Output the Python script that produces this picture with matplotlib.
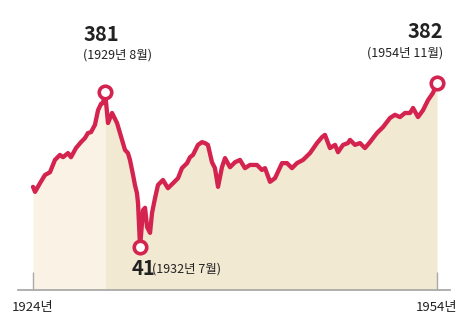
import numpy as np
import matplotlib
matplotlib.use('Agg')
import matplotlib.pyplot as plt

plt.rcParams['font.family'] = ['Noto Sans CJK KR', 'DejaVu Sans']

# 다우지수 (1924 ~ 1954), 그림에서 읽은 값
years = [1924.00, 1924.15, 1924.52, 1924.89, 1925.26, 1925.63, 1926.00, 1926.23,
         1926.60, 1926.82, 1927.19, 1927.56, 1927.86, 1928.08, 1928.31, 1928.60,
         1928.83, 1929.05, 1929.20, 1929.35, 1929.57, 1929.87, 1930.24, 1930.61,
         1930.83, 1931.05, 1931.20, 1931.43, 1931.57, 1931.72, 1931.80, 1931.95,
         1932.17, 1932.32, 1932.47, 1932.69, 1932.84, 1933.06, 1933.28, 1933.65,
         1934.02, 1934.40, 1934.77, 1935.06, 1935.44, 1935.66, 1935.88, 1936.25,
         1936.55, 1936.77, 1936.99, 1937.29, 1937.51, 1937.74, 1938.03, 1938.26,
         1938.63, 1939.00, 1939.37, 1939.74, 1940.11, 1940.63, 1941.00, 1941.23,
         1941.60, 1941.97, 1942.49, 1942.86, 1943.23, 1943.60, 1944.05, 1944.57,
         1945.09, 1945.46, 1945.68, 1946.05, 1946.43, 1946.65, 1947.02, 1947.39,
         1947.54, 1947.91, 1948.28, 1948.65, 1949.02, 1949.54, 1949.99, 1950.51,
         1950.88, 1951.25, 1951.62, 1952.00, 1952.22, 1952.59, 1952.96, 1953.33,
         1953.70, 1954.00]
dow = [173, 162, 181, 199, 205, 232, 243, 238,
       247, 238, 258, 271, 280, 291, 293, 309,
       341, 355, 357, 381, 313, 335, 313, 276,
       254, 247, 232, 199, 177, 159, 137, 41,
       122, 127, 85, 72, 116, 148, 177, 188,
       170, 181, 192, 214, 225, 238, 243, 265,
       271, 269, 265, 227, 214, 173, 216, 236,
       216, 227, 232, 214, 221, 221, 210, 214,
       184, 192, 225, 225, 214, 225, 232, 247,
       269, 282, 287, 258, 265, 249, 265, 269,
       276, 265, 269, 258, 271, 291, 304, 324,
       331, 326, 335, 335, 346, 326, 341, 363,
       379, 401]

tick_years = [1924, 1954]
tick_labels = ['1924년', '1954년']

peak_txt, peak_date = '381', '(1929년 8월)'
low_txt, low_date = '41', '(1932년 7월)'
last_txt, last_date = '382', '(1954년 11월)'

red = '#d3234e'
floor = -53.3

x = np.array(years)
y = np.array(dow)
peak_i = int(np.argmax(np.where(x < 1930, y, 0)))
low_i = int(np.argmin(y))
last_i = len(y) - 1

fig = plt.figure(figsize=(4.69, 3.27), dpi=100)
ax = fig.add_axes([18 / 469, 37 / 327, 432 / 469, 290 / 327])
ax.set_xlim(1922.886, 1954.965)
ax.set_ylim(floor, 582.8)

# 배경 면 (대공황 이전 / 이후)
ax.fill_between(x[:peak_i + 1], y[:peak_i + 1], floor, color='#faf3e5', lw=0)
ax.fill_between(x[peak_i:], y[peak_i:], floor, color='#f2e9d2', lw=0)

ax.plot(x, y, color=red, lw=3.1, solid_joinstyle='round', solid_capstyle='round', zorder=3)
for i in (peak_i, low_i, last_i):
    ax.plot(x[i], y[i], 'o', ms=9, mfc='white', mec=red, mew=2.6, zorder=4)

def note(i, big, small, off_big, off_small, ha):
    ax.annotate(big, (x[i], y[i]), xytext=off_big, textcoords='offset pixels',
                ha=ha, va='baseline', fontsize=14.5, fontweight='bold', color='#222222')
    ax.annotate(small, (x[i], y[i]), xytext=off_small, textcoords='offset pixels',
                ha=ha, va='baseline', fontsize=9, color='#222222')

note(peak_i, peak_txt, peak_date, (-22, 51), (-22, 33), 'left')
note(last_i, last_txt, last_date, (6, 45), (6, 26), 'right')
note(low_i, low_txt, low_date, (-8, -28), (12, -26), 'left')

for s in ('top', 'left', 'right'):
    ax.spines[s].set_visible(False)
ax.spines['bottom'].set_color('#aaaaaa')
ax.spines['bottom'].set_linewidth(1.3)
ax.set_yticks([])
ax.set_xticks(tick_years)
ax.set_xticklabels(tick_labels, fontsize=9.5, color='#222222')
ax.tick_params(axis='x', direction='in', length=13, width=1, color='#aaaaaa', pad=8)
ax.patch.set_alpha(0)

fig.savefig('out.png', dpi=100)
